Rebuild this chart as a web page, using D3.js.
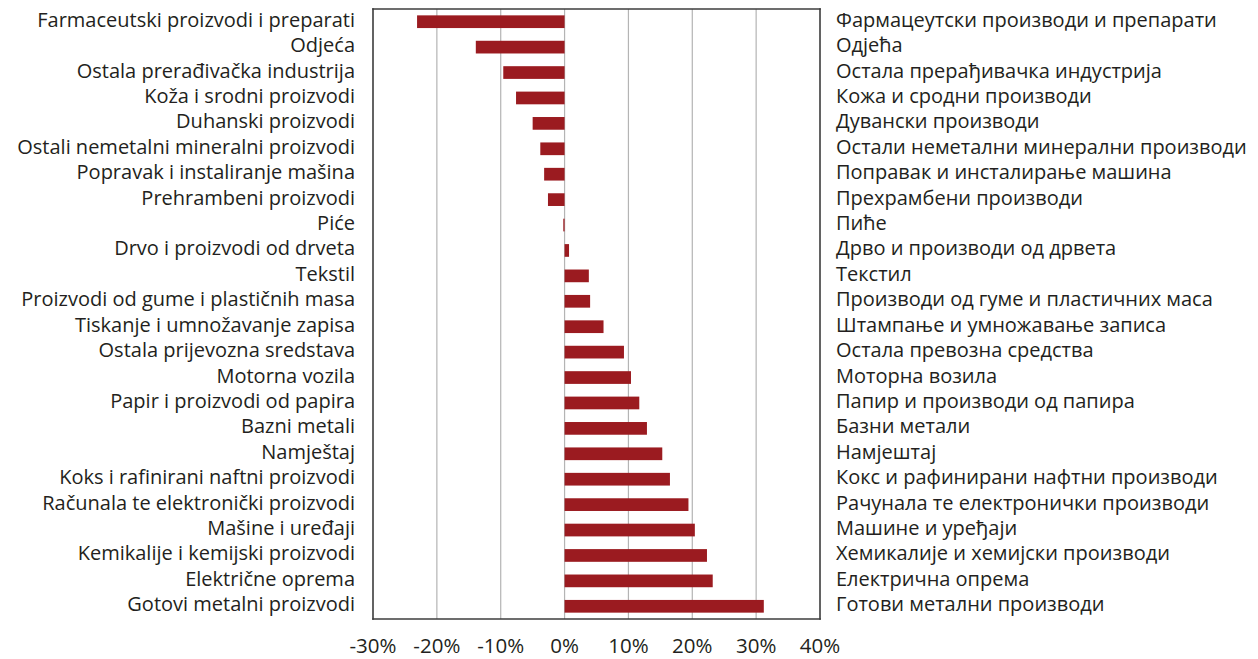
<!DOCTYPE html>
<html>
<head>
<meta charset="utf-8">
<script src="https://cdn.jsdelivr.net/npm/d3@7"></script>
<style>
  body { margin: 0; background: #fff; }
  svg text { font-family: "Open Sans", sans-serif; fill: #231f20; }
</style>
</head>
<body>
<svg id="chart" width="1258" height="659"></svg>
<script>
// categories (latin / cyrillic) and values in percent
var labelsLat = ["Farmaceutski proizvodi i preparati", "Odjeća", "Ostala prerađivačka industrija",
  "Koža i srodni proizvodi", "Duhanski proizvodi", "Ostali nemetalni mineralni proizvodi",
  "Popravak i instaliranje mašina", "Prehrambeni proizvodi", "Piće", "Drvo i proizvodi od drveta",
  "Tekstil", "Proizvodi od gume i plastičnih masa", "Tiskanje i umnožavanje zapisa",
  "Ostala prijevozna sredstava", "Motorna vozila", "Papir i proizvodi od papira", "Bazni metali",
  "Namještaj", "Koks i rafinirani naftni proizvodi", "Računala te elektronički proizvodi",
  "Mašine i uređaji", "Kemikalije i kemijski proizvodi", "Električne oprema", "Gotovi metalni proizvodi"];
var labelsCyr = ["Фармацеутски производи и препарати", "Одјећа", "Остала прерађивачка индустрија",
  "Кожа и сродни производи", "Дувански производи", "Остали неметални минерални производи",
  "Поправак и инсталирање машина", "Прехрамбени производи", "Пиће", "Дрво и производи од дрвета",
  "Текстил", "Производи од гуме и пластичних маса", "Штампање и умножавање записа",
  "Остала превозна средства", "Моторна возила", "Папир и производи од папира", "Базни метали",
  "Намјештај", "Кокс и рафинирани нафтни производи", "Рачунала те електронички производи",
  "Машине и уређаји", "Хемикалије и хемијски производи", "Електрична опрема", "Готови метални производи"];
var values = [-23.1, -13.9, -9.6, -7.6, -5.0, -3.8, -3.2, -2.6, -0.2, 0.7, 3.8, 4.0, 6.1,
  9.3, 10.4, 11.7, 12.9, 15.3, 16.5, 19.4, 20.4, 22.3, 23.2, 31.2];
var ticks = [-30, -20, -10, 0, 10, 20, 30, 40];

var svg = d3.select("#chart");
var plotLeft = 373, plotRight = 820, plotTop = 9, plotBottom = 619;

var x = d3.scaleLinear().domain([-30, 40]).range([plotLeft, plotRight]);
var y = d3.scaleBand().domain(d3.range(values.length)).range([plotTop, plotBottom])
  .paddingInner(0.5).paddingOuter(0.25);

// grid
svg.append("g").selectAll("line")
  .data(ticks.slice(1, -1))
  .join("line")
  .attr("x1", d => x(d)).attr("x2", d => x(d))
  .attr("y1", plotTop).attr("y2", plotBottom)
  .attr("stroke", "#b4b4b4").attr("stroke-width", 1.2);

// bars
svg.append("g").selectAll("rect")
  .data(values)
  .join("rect")
  .attr("x", d => x(Math.min(0, d)))
  .attr("width", d => Math.abs(x(d) - x(0)))
  .attr("y", (d, i) => y(i))
  .attr("height", y.bandwidth())
  .attr("fill", "#9b1b20");

// frame, as four lines
var edges = [
  [plotLeft, plotTop, plotRight, plotTop],
  [plotRight, plotTop, plotRight, plotBottom],
  [plotRight, plotBottom, plotLeft, plotBottom],
  [plotLeft, plotBottom, plotLeft, plotTop]
];
svg.append("g").selectAll("line")
  .data(edges)
  .join("line")
  .attr("x1", d => d[0]).attr("y1", d => d[1])
  .attr("x2", d => d[2]).attr("y2", d => d[3])
  .attr("stroke", "#3c3c3c").attr("stroke-width", 1.6)
  .attr("stroke-linecap", "square");

// tick labels
svg.append("g").selectAll("text")
  .data(ticks)
  .join("text")
  .attr("x", d => x(d)).attr("y", 653)
  .attr("text-anchor", "middle")
  .style("font-size", "20.5px")
  .text(d => d + "%");

// left labels
svg.append("g").selectAll("text")
  .data(labelsLat)
  .join("text")
  .attr("x", 355)
  .attr("y", (d, i) => y(i) + y.bandwidth() / 2)
  .attr("dy", "0.25em")
  .attr("text-anchor", "end")
  .style("font-size", "20px")
  .text(d => d);

// right labels
svg.append("g").selectAll("text")
  .data(labelsCyr)
  .join("text")
  .attr("x", 836)
  .attr("y", (d, i) => y(i) + y.bandwidth() / 2)
  .attr("dy", "0.25em")
  .style("font-size", "20px")
  .text(d => d);
</script>
</body>
</html>
